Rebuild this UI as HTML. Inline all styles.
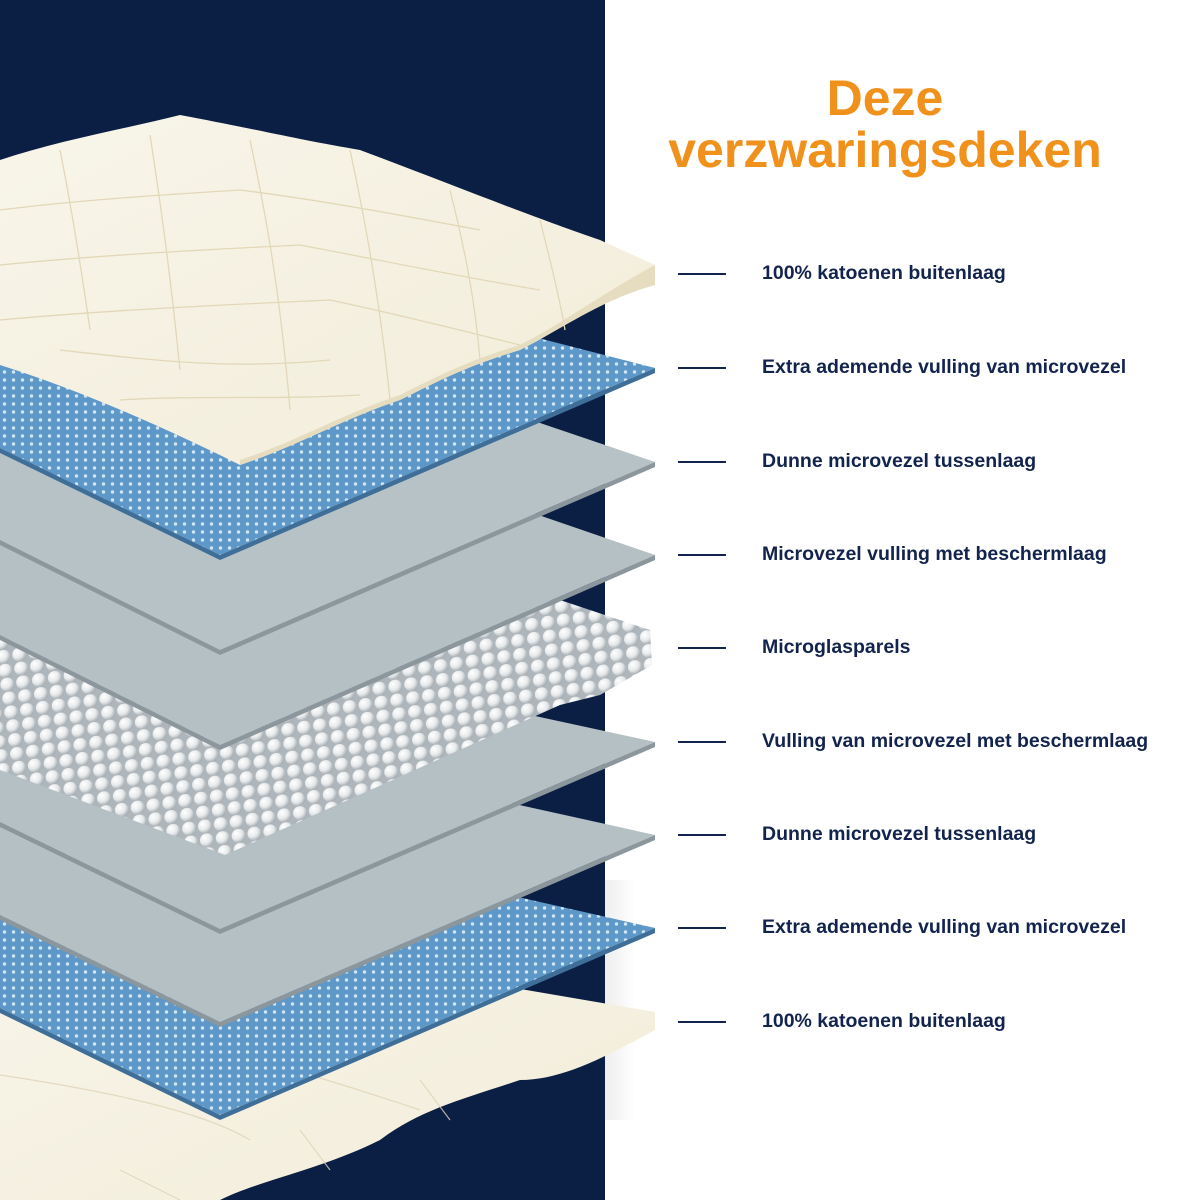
<!DOCTYPE html>
<html><head><meta charset="utf-8"><style>
html,body{margin:0;padding:0;width:1200px;height:1200px;overflow:hidden;background:#fff}
svg{position:absolute;left:0;top:0}
.t{position:absolute;left:630px;width:510px;text-align:center;font-family:"Liberation Sans",sans-serif;font-weight:bold;color:#f0911c;font-size:50px;line-height:52px;top:72px}
.l{position:absolute;left:762px;font-family:"Liberation Sans",sans-serif;font-weight:bold;color:#12234d;font-size:19.5px;white-space:nowrap}
.d{position:absolute;left:678px;width:48px;height:2px;background:#12234d}
</style></head><body>
<svg width="1200" height="1200" viewBox="0 0 1200 1200">
<defs>
<linearGradient id="sh" x1="0" x2="1"><stop offset="0" stop-color="#ddd"/><stop offset="1" stop-color="#fff"/></linearGradient>
<pattern id="dots" width="9" height="8" patternUnits="userSpaceOnUse"><rect width="9" height="8" fill="#5e98c8"/><circle cx="4.5" cy="4" r="1.7" fill="#cfe4f4"/></pattern>
<linearGradient id="bl" x1="0" y1="0" x2="0" y2="1"><stop offset="0" stop-color="#2d5a85" stop-opacity=".5"/><stop offset=".4" stop-color="#2d5a85" stop-opacity="0"/></linearGradient>
<radialGradient id="bg" cx=".35" cy=".3" r=".7"><stop offset="0" stop-color="#fff"/><stop offset=".6" stop-color="#e6e9eb"/><stop offset="1" stop-color="#a8b0b5"/></radialGradient>
<pattern id="beads" width="16" height="14" patternUnits="userSpaceOnUse" patternTransform="rotate(-8)"><rect width="16" height="14" fill="#aeb6bb"/><circle cx="8" cy="7" r="7" fill="url(#bg)"/></pattern>
<linearGradient id="ct" x1="0" y1="0" x2="1" y2="1"><stop offset="0" stop-color="#f8f5ea"/><stop offset="1" stop-color="#f2ecd8"/></linearGradient>
</defs>
<rect x="0" y="0" width="605" height="1200" fill="#0b1f45"/>
<rect x="605" y="880" width="30" height="240" fill="url(#sh)" opacity=".5"/>
<path d="M0 900 L655 1012 L655 1030 C600 1060 560 1080 520 1080 C460 1100 420 1110 380 1140 C320 1170 260 1180 220 1200 L0 1200 Z" fill="url(#ct)"/>
<g stroke="#ddd3b5" stroke-width="1.2" fill="none" opacity=".8">
<path d="M0 1075 C100 1090 200 1110 250 1140 M50 1020 C200 1040 300 1070 420 1110 M120 1170 L180 1200 M300 1130 L330 1170 M420 1080 L450 1120"/>
</g>
<path d="M0 780 L655 928 L220 1115 L0 1008 Z" fill="url(#dots)"/>
<path d="M655 928 L655 933 L220 1120 L0 1013 L0 1008 L220 1115 Z" fill="#3f6f98"/>
<path d="M0 690 L655 835 L220 1022 L0 915 Z" fill="#b5c0c5"/>
<path d="M655 835 L655 840 L220 1027 L0 920 L0 915 L220 1022 Z" fill="#8c979d"/>
<path d="M0 600 L655 742 L220 929 L0 822 Z" fill="#b5c0c5"/>
<path d="M655 742 L655 747 L220 934 L0 827 L0 822 L220 929 Z" fill="#8c979d"/>
<path d="M0 640 L560 600 L650 630 L652 665 L600 695 L560 705 L225 855 L0 770 Z" fill="url(#beads)"/>
<path d="M0 330 L655 555 L220 745 L0 635 Z" fill="#b5c0c5"/>
<path d="M655 555 L655 560 L220 750 L0 640 L0 635 L220 745 Z" fill="#8c979d"/>
<path d="M0 240 L655 462 L220 650 L0 540 Z" fill="#b7c2c7"/>
<path d="M655 462 L655 467 L220 655 L0 545 L0 540 L220 650 Z" fill="#8c979d"/>
<path d="M0 200 L655 368 L220 555 L0 448 Z" fill="url(#dots)"/>
<path d="M0 200 L655 368 L220 555 L0 448 Z" fill="url(#bl)"/>
<path d="M655 368 L655 373 L220 560 L0 453 L0 448 L220 555 Z" fill="#3f6f98"/>
<path d="M0 160 C60 140 120 130 180 115 C260 130 300 140 360 150 C440 180 540 220 600 240 L655 265 L655 285 C600 300 560 330 520 350 C470 365 440 380 400 400 C340 420 300 445 240 465 C170 430 80 390 0 365 Z" fill="url(#ct)"/>
<g stroke="#e2d8b8" stroke-width="1.3" fill="none">
<path d="M0 210 C80 200 160 195 240 190 C320 200 400 215 480 230 M0 265 C100 255 200 250 300 245 C380 260 450 275 540 290 M0 320 C110 310 220 305 330 300 C400 315 460 330 520 345 M60 350 C150 360 230 370 330 360 M120 400 C200 395 270 400 360 395"/>
<path d="M60 150 C70 200 80 260 90 330 M150 135 C160 200 170 270 180 370 M250 140 C265 210 280 290 290 410 M350 150 C365 220 380 300 390 400 M450 190 C465 250 475 300 480 360 M540 220 C550 260 560 300 565 330"/>
</g>
<path d="M655 265 L655 285 C600 300 560 330 520 350 C470 365 440 380 400 400 C340 420 300 445 240 465 L240 460 C300 440 340 415 400 395 C440 375 470 360 520 345 C560 325 600 295 655 265Z" fill="#e6dcc0"/>
</svg>
<div class="t">Deze<br>verzwaringsdeken</div>
<div class="d" style="top:273px"></div><div class="l" style="top:262px">100% katoenen buitenlaag</div>
<div class="d" style="top:367px"></div><div class="l" style="top:356px">Extra ademende vulling van microvezel</div>
<div class="d" style="top:461px"></div><div class="l" style="top:450px">Dunne microvezel tussenlaag</div>
<div class="d" style="top:554px"></div><div class="l" style="top:543px">Microvezel vulling met beschermlaag</div>
<div class="d" style="top:647px"></div><div class="l" style="top:636px">Microglasparels</div>
<div class="d" style="top:741px"></div><div class="l" style="top:730px">Vulling van microvezel met beschermlaag</div>
<div class="d" style="top:834px"></div><div class="l" style="top:823px">Dunne microvezel tussenlaag</div>
<div class="d" style="top:927px"></div><div class="l" style="top:916px">Extra ademende vulling van microvezel</div>
<div class="d" style="top:1021px"></div><div class="l" style="top:1010px">100% katoenen buitenlaag</div>
</body></html>
